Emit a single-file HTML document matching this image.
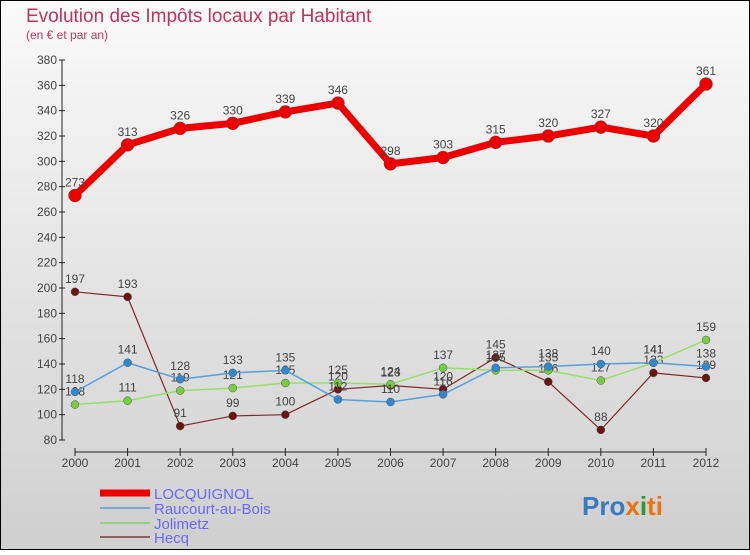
<!DOCTYPE html>
<html><head><meta charset="utf-8"><style>
body{margin:0;}
svg text{font-family:"Liberation Sans",sans-serif;}
</style></head><body>
<svg width="750" height="550" viewBox="0 0 750 550" xmlns="http://www.w3.org/2000/svg">
<defs><linearGradient id="bg" x1="0" y1="0" x2="0" y2="1"><stop offset="0" stop-color="#fafafa"/><stop offset="1" stop-color="#cfcfcf"/></linearGradient></defs>
<rect x="0.5" y="0.5" width="749" height="549" fill="url(#bg)" stroke="#000"/>
<text x="26" y="22" font-size="19" fill="#c0335f">Evolution des Impôts locaux par Habitant</text>
<text x="26" y="39" font-size="12" fill="#c0335f">(en € et par an)</text>
<g id="axes"></g><g id="series"></g>
<g>
<line x1="100" y1="493" x2="150" y2="493" stroke="#ee0000" stroke-width="7"/><text x="154" y="499" font-size="15" fill="#6a6af0">LOCQUIGNOL</text>
<line x1="100" y1="508" x2="150" y2="508" stroke="#7aaad0" stroke-width="2"/><text x="154" y="514" font-size="15" fill="#6a6af0">Raucourt-au-Bois</text>
<line x1="100" y1="523" x2="150" y2="523" stroke="#99d080" stroke-width="2"/><text x="154" y="529" font-size="15" fill="#6a6af0">Jolimetz</text>
<line x1="100" y1="537" x2="150" y2="537" stroke="#8a6060" stroke-width="2"/><text x="154" y="543" font-size="15" fill="#6a6af0">Hecq</text>
</g>
<text x="582" y="515" font-size="26" font-weight="bold"><tspan fill="#3a7ac0">Pro</tspan><tspan fill="#f07010">x</tspan><tspan fill="#2a9a30">i</tspan><tspan fill="#f07010">ti</tspan></text>
</svg>
<script>
const years=[2000,2001,2002,2003,2004,2005,2006,2007,2008,2009,2010,2011,2012];
const yTicks=[80,100,120,140,160,180,200,220,240,260,280,300,320,340,360,380];
const locquignol=[273,313,326,330,339,346,298,303,315,320,327,320,361];
const raucourt=[118,141,128,133,135,112,110,116,137,138,140,141,138];
const jolimetz=[108,111,119,121,125,125,124,137,135,135,127,141,159];
const hecq=[197,193,91,99,100,120,123,120,145,126,88,133,129];
const NS="http://www.w3.org/2000/svg";
const X=i=>75+i*(706-75)/(years.length-1);
const Y=v=>440-(v-80)*(380/300);
function mk(t,a,p){const e=document.createElementNS(NS,t);for(const k in a)e.setAttribute(k,a[k]);p.appendChild(e);return e;}
const ax=document.getElementById('axes');
mk('line',{x1:62,y1:Y(380),x2:62,y2:Y(80),stroke:'#222'},ax);
mk('line',{x1:75,y1:452,x2:706,y2:452,stroke:'#222'},ax);
yTicks.forEach(v=>{
 const t=mk('line',{x1:59,y1:Y(v),x2:65,y2:Y(v),stroke:'#222'},ax);
 
 
 const l=mk('text',{x:57,y:Y(v)+4,'font-size':12,fill:'#444','text-anchor':'end'},ax);l.textContent=v;
 
 
});
years.forEach((y,i)=>{
 mk('line',{x1:X(i),y1:448,x2:X(i),y2:456,stroke:'#222'},ax);
 const l=mk('text',{x:X(i),y:467,'font-size':12,fill:'#444','text-anchor':'middle'},ax);l.textContent=y;
 
 
});
const sg=document.getElementById('series');
function draw(data,name,col,dot,w,r){
 const g=mk('g',{},sg);
 
 
 mk('polyline',{points:data.map((v,i)=>X(i)+','+Y(v)).join(' '),fill:'none',stroke:col,'stroke-width':w,'stroke-linejoin':'round'},g);
 data.forEach((v,i)=>{
  const c=mk('circle',{cx:X(i),cy:Y(v),r:r,fill:dot,stroke:'#555','stroke-width':0.5},g);
  
  
  const t=mk('text',{x:X(i),y:Y(v)-9,'font-size':12,fill:'#444','text-anchor':'middle'},g);t.textContent=v;
  
  
 });
}
draw(hecq,'hecq','#7a2a2a','#6a1515',1.2,4);
draw(jolimetz,'jolimetz','#99dd70','#77cc44',1.5,4);
draw(raucourt,'raucourt','#5aa0d8','#3388cc',1.5,4);
draw(locquignol,'locquignol','#ee0000','#ee0000',7,6.5);
</script>
</body></html>
